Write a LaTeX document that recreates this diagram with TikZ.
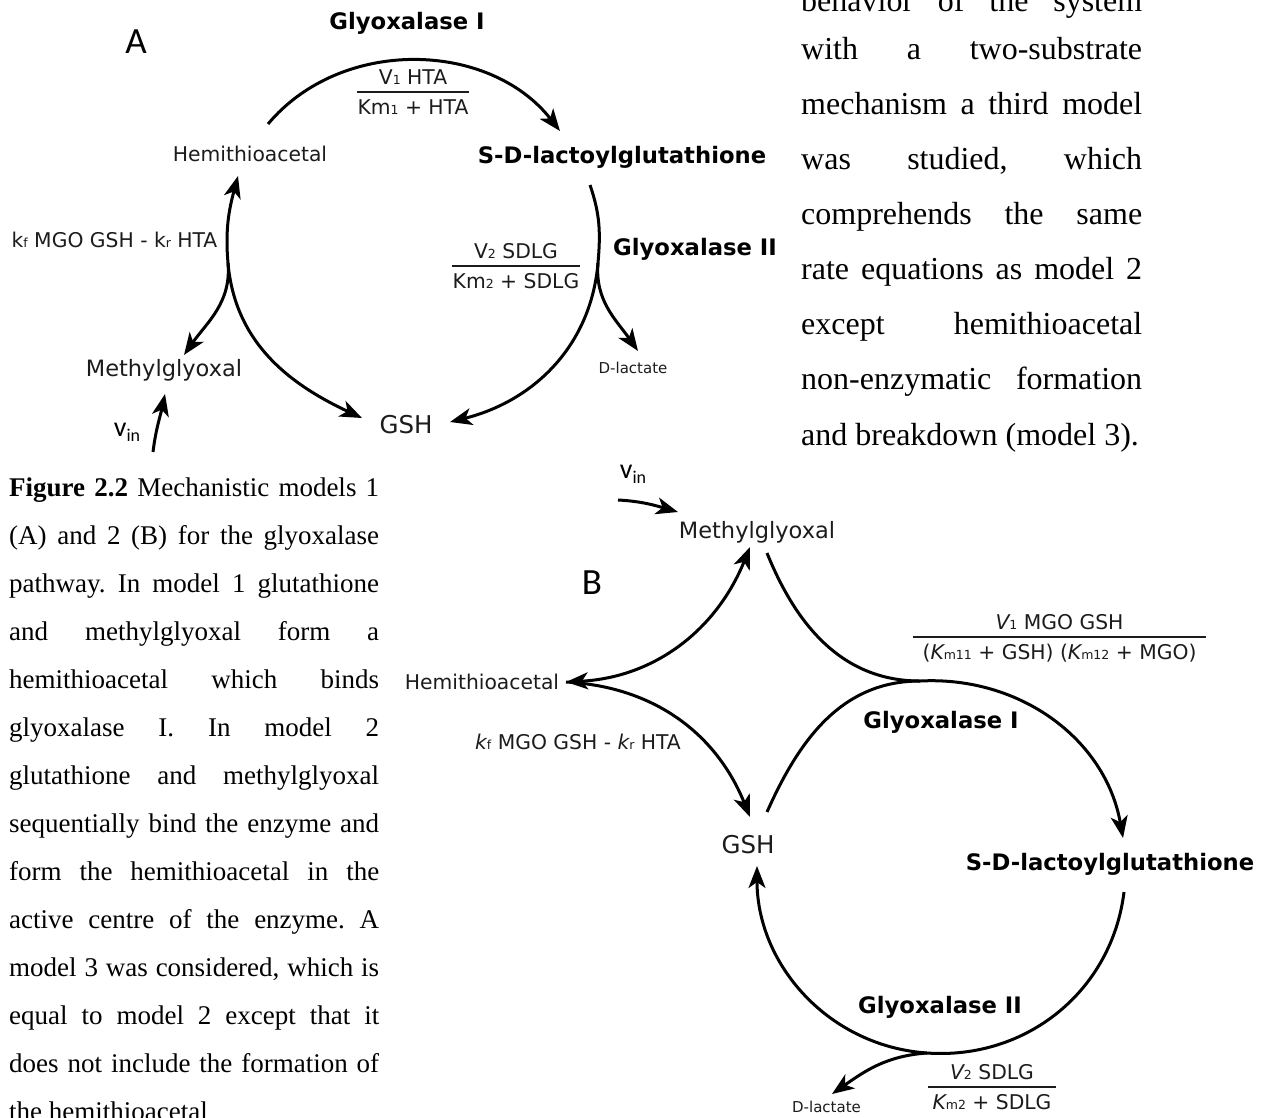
\documentclass[tikz,border=0pt]{standalone}
\usepackage{fontspec}
\setmainfont{Liberation Serif}
\newfontfamily\diagfont{DejaVu Sans}
\newfontfamily\panelfont{Carlito}
\usetikzlibrary{arrows.meta}
\setlength{\arrayrulewidth}{1.6pt}
\definecolor{ink}{RGB}{28,28,28}
\frenchspacing

% small baseline-level index used in the rate laws
\newcommand{\lo}[1]{{\fontsize{12.5}{14}\selectfont #1}}
% rate-law fraction: rule margin, numerator, denominator
\newcommand{\ratefrac}[3]{\begin{tabular}{@{\hspace{#1}}c@{\hspace{#1}}}#2\\\hline\rule{0pt}{21pt}#3\end{tabular}}
\newcommand{\vinlabel}{{\fontsize{28}{30}\selectfont v}\raisebox{-5pt}{\fontsize{18}{20}\selectfont in}}
\newcommand{\jl}[2]{\makebox[#1][s]{#2}}

\tikzset{
  lbl/.style={font=\diagfont\fontsize{20.3}{24}\selectfont, text=ink, inner sep=0pt},
  mgolbl/.style={font=\diagfont\fontsize{22.5}{26}\selectfont, text=ink, inner sep=0pt},
  gshlbl/.style={font=\diagfont\fontsize{24.5}{28}\selectfont, text=ink, inner sep=0pt},
  enz/.style={font=\diagfont\bfseries\fontsize{22.7}{27}\selectfont, text=black, inner sep=0pt},
  dlac/.style={font=\diagfont\fontsize{15}{18}\selectfont, text=ink, inner sep=0pt},
  ratelbl/.style={font=\diagfont\fontsize{20.3}{24}\selectfont, text=ink, inner sep=0pt},
  panel/.style={font=\panelfont\fontsize{37}{42}\selectfont, text=black, inner sep=0pt},
  inflow/.style={font=\panelfont, text=black, inner sep=0pt},
  body/.style={font=\fontsize{32}{38}\selectfont, text=black, inner sep=0pt, anchor=base west},
  captxt/.style={font=\fontsize{27}{32}\selectfont, text=black, inner sep=0pt, anchor=base west},
  rxn/.style={line width=3pt, draw=black},
  flow/.style={rxn, -{Stealth[length=22pt,width=17pt,inset=6pt]}},
  flowboth/.style={rxn, {Stealth[length=22pt,width=17pt,inset=6pt]}-{Stealth[length=22pt,width=17pt,inset=6pt]}},
}

\begin{document}
\begin{tikzpicture}[x=1pt,y=1pt]
\useasboundingbox (0,0) rectangle (1274,-1117);
\fill[white] (0,0) rectangle (1274,-1117);
\clip (0,0) rectangle (1274,-1117);

% ---------------- running text, right column ----------------
\node[body] (t0) at (801,-11)    {\jl{341pt}{behavior of the system}};
\node[body] (t1) at (801,-59.3)  {\jl{341pt}{with a two-substrate}};
\node[body] (t2) at (801,-114.4) {\jl{341pt}{mechanism a third model}};
\node[body] (t3) at (801,-169.5) {\jl{341pt}{was studied, which}};
\node[body] (t4) at (801,-224.6) {\jl{341pt}{comprehends the same}};
\node[body] (t5) at (801,-279.7) {\jl{341pt}{rate equations as model 2}};
\node[body] (t6) at (801,-334.8) {\jl{341pt}{except hemithioacetal}};
\node[body] (t7) at (801,-389.9) {\jl{341pt}{non-enzymatic formation}};
\node[body] (t8) at (801,-445)   {and breakdown (model 3).};

% ---------------- figure caption, left column ----------------
\node[captxt] (c0)  at (9,-496)  {\jl{370pt}{\textbf{Figure 2.2} Mechanistic models 1}};
\node[captxt] (c1)  at (9,-544)  {\jl{370pt}{(A) and 2 (B) for the glyoxalase}};
\node[captxt] (c2)  at (9,-592)  {\jl{370pt}{pathway. In model 1 glutathione}};
\node[captxt] (c3)  at (9,-640)  {\jl{370pt}{and methylglyoxal form a}};
\node[captxt] (c4)  at (9,-688)  {\jl{370pt}{hemithioacetal which binds}};
\node[captxt] (c5)  at (9,-736)  {\jl{370pt}{glyoxalase I. In model 2}};
\node[captxt] (c6)  at (9,-784)  {\jl{370pt}{glutathione and methylglyoxal}};
\node[captxt] (c7)  at (9,-832)  {\jl{370pt}{sequentially bind the enzyme and}};
\node[captxt] (c8)  at (9,-880)  {\jl{370pt}{form the hemithioacetal in the}};
\node[captxt] (c9)  at (9,-928)  {\jl{370pt}{active centre of the enzyme. A}};
\node[captxt] (c10) at (9,-976)  {\jl{370pt}{model 3 was considered, which is}};
\node[captxt] (c11) at (9,-1024) {\jl{370pt}{equal to model 2 except that it}};
\node[captxt] (c12) at (9,-1072) {\jl{370pt}{does not include the formation of}};
\node[captxt] (c13) at (9,-1120) {the hemithioacetal};

% ---------------- model 1 (A) ----------------
\node[panel] (panA) at (136,-42) {A};
\node[enz] (glo1A) at (407,-23) {Glyoxalase I};
\node[ratelbl] (rate1A) at (413,-94.3) {\ratefrac{1pt}{V\lo{1} HTA}{Km\lo{1} + HTA}};
\node[lbl] (htaA) at (250,-154) {Hemithioacetal};
\node[enz] (sdlA) at (622,-157) {S-D-lactoylglutathione};
\node[lbl] (kA) at (114.5,-240) {k\lo{f} MGO GSH - k\lo{r} HTA};
\node[ratelbl] (rate2A) at (516,-268.3) {\ratefrac{1pt}{V\lo{2} SDLG}{Km\lo{2} + SDLG}};
\node[enz] (glo2A) at (695,-249) {Glyoxalase II};
\node[dlac] (dlA) at (633,-368) {D-lactate};
\node[mgolbl] (mgoA) at (164,-370) {Methylglyoxal};
\node[gshlbl] (gshA) at (406,-425) {GSH};
\node[inflow] (vinA) at (127,-432) {\vinlabel};

\coordinate (a1s) at (268,-124);
\coordinate (a1e) at (560,-131);
\coordinate (a2s) at (590,-185);
\coordinate (jRA) at (598,-263);
\coordinate (gshInR) at (450,-422);
\coordinate (dlTipA) at (638,-351);
\coordinate (jLA) at (228,-263);
\coordinate (htaTipA) at (238,-176);
\coordinate (mgoTipA) at (184,-355);
\coordinate (gshInL) at (362,-418);
\coordinate (vinAs) at (153,-452);
\coordinate (vinAe) at (165,-394);

\draw[flow] (a1s) to[out=50,in=128] (a1e);
\draw[flow] (a2s) to[out=-71,in=85] (jRA) to[out=-95,in=14] (gshInR);
\draw[flow] (jRA) to[out=-95,in=125] (dlTipA);
\draw[flow] (jLA) to[out=95,in=-105] (htaTipA);
\draw[flow] (jLA) to[out=-85,in=155] (gshInL);
\draw[flow] (jLA) to[out=-85,in=55] (mgoTipA);
\draw[flow] (vinAs) to[out=83,in=-102] (vinAe);

% ---------------- model 2 (B) ----------------
\node[inflow] (vinB) at (633,-474) {\vinlabel};
\node[mgolbl] (mgoB) at (757,-532) {Methylglyoxal};
\node[panel] (panB) at (592,-583) {B};
\node[ratelbl] (rate1B) at (1059.5,-639.3) {\ratefrac{10pt}{{\itshape V}\lo{1} MGO GSH}{({\itshape K}\lo{m11} + GSH) ({\itshape K}\lo{m12} + MGO)}};
\node[lbl] (htaB) at (482,-682) {Hemithioacetal};
\node[enz] (glo1B) at (941,-722) {Glyoxalase I};
\node[lbl] (kB) at (578,-742) {{\itshape k}\lo{f} MGO GSH - {\itshape k}\lo{r} HTA};
\node[gshlbl] (gshB) at (748,-845) {GSH};
\node[enz] (sdlB) at (1110,-864) {S-D-lactoylglutathione};
\node[enz] (glo2B) at (940,-1007) {Glyoxalase II};
\node[ratelbl] (rate2B) at (992,-1089.3) {\ratefrac{5pt}{{\itshape V}\lo{2} SDLG}{{\itshape K}\lo{m2} + SDLG}};
\node[dlac] (dlB) at (826.5,-1107) {D-lactate};

\coordinate (vinBs) at (618,-500);
\coordinate (vinBe) at (678,-512);
\coordinate (htaTipB) at (566,-682);
\coordinate (mgoTipB) at (750,-547);
\coordinate (gshTipB) at (750,-817);
\coordinate (mgoOutB) at (767,-553);
\coordinate (gshOutB) at (767,-812);
\coordinate (cuspB) at (920,-681);
\coordinate (sdlTipB) at (1123,-838);
\coordinate (sdlOutB) at (1124,-892);
\coordinate (jBotB) at (927,-1053);
\coordinate (gshInB) at (757,-866);
\coordinate (dlTipB) at (832,-1094);

\draw[flow] (vinBs) to[out=-3,in=164] (vinBe);
\draw[flowboth] (htaTipB) to[out=3,in=-112] (mgoTipB);
\draw[flow] (htaTipB) to[out=-3,in=112] (gshTipB);
\draw[flow] (mgoOutB) to[out=-68,in=180] (cuspB) to[out=3,in=100] (sdlTipB);
\draw[rxn] (gshOutB) to[out=66,in=180] (cuspB);
\draw[flow] (sdlOutB) to[out=-97,in=-4] (jBotB) to[out=176,in=-90] (gshInB);
\draw[flow] (jBotB) to[out=184,in=35] (dlTipB);

\end{tikzpicture}
\end{document}
